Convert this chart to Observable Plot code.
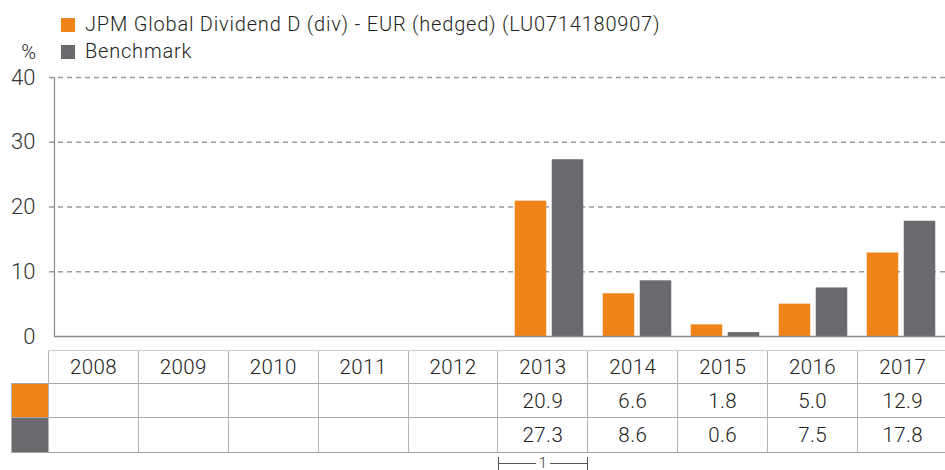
<!DOCTYPE html>
<html>
<head>
<meta charset="utf-8">
<script src="https://cdn.jsdelivr.net/npm/d3@7"></script>
<script src="https://cdn.jsdelivr.net/npm/@observablehq/plot@0.6"></script>
<style>
  html, body { margin: 0; padding: 0; background: #fff; }
  body { width: 945px; height: 470px; position: relative; overflow: hidden;
         font-family: Roboto, "Liberation Sans", Arial, sans-serif; font-weight: 300; color: #231f20; }
  #legend { position: absolute; left: 61px; top: 11px; font-size: 20px; line-height: 27px; letter-spacing: 0.8px; }
  .item { display: flex; align-items: center; white-space: nowrap; }
  .sw { width: 14px; height: 14px; margin-right: 10px; flex: none; }
  #unit { position: absolute; left: 0; width: 36px; text-align: right; top: 39px; font-size: 20px; line-height: 27px; }
  #chart { position: absolute; left: 0; top: 62px; }
  #tbl { position: absolute; left: 11px; top: 350px; border-collapse: collapse; table-layout: fixed; width: 936px;
         font-size: 20.5px; letter-spacing: 0.4px; color: #222; }
  #tbl td { padding: 0; text-align: center; vertical-align: middle; }
  #tbl tr.head td { height: 32px; border-top: 1.5px solid #cfcfcf; border-left: 1px solid #b5b5b5; }
  #tbl tr.head td.swc { border-top: none; border-left: none; }
  #tbl tr.val td { border-top: 1.5px solid #a8a8a8; border-left: 1px solid #b5b5b5; }
  #tbl tr.val.last td { border-bottom: 1.5px solid #a0a0a0; }
  #tbl tr.foot td { border: none; height: 17px; vertical-align: top; }
  .bracket { margin-top: 4px; height: 13px; border-left: 1px solid #555; border-right: 1px solid #555;
             display: flex; align-items: center; font-size: 14px; line-height: 13px; color: #333; letter-spacing: 0; }
  .bracket .ln { flex: 1; height: 0; border-top: 1px solid #555; }
  .bracket .lb { padding: 0 3px; }
</style>
</head>
<body>
<div id="legend"></div>
<div id="unit">%</div>
<div id="chart"></div>
<table id="tbl"></table>
<script>
// ---- data ----
const years = ["2008", "2009", "2010", "2011", "2012", "2013", "2014", "2015", "2016", "2017"];
const fundValues = [null, null, null, null, null, 20.9, 6.6, 1.8, 5.0, 12.9];
const benchmarkValues = [null, null, null, null, null, 27.3, 8.6, 0.6, 7.5, 17.8];
const seriesNames = ["JPM Global Dividend D (div) - EUR (hedged) (LU0714180907)", "Benchmark"];
const seriesColors = ["#f18419", "#6a696e"];
const yTicks = [0, 10, 20, 30, 40];
const unitLabel = "%";
const footnotes = [{ year: "2013", label: "1" }];

// ---- legend ----
const legend = d3.select("#legend");
seriesNames.forEach((name, i) => {
  const it = legend.append("div").attr("class", "item");
  it.append("div").attr("class", "sw").style("background", seriesColors[i]);
  it.append("span").text(name);
});
d3.select("#unit").text(unitLabel);

// ---- chart ----
const fundData = years.map((year, i) => ({ year, value: fundValues[i] })).filter(d => d.value != null);
const benchData = years.map((year, i) => ({ year, value: benchmarkValues[i] })).filter(d => d.value != null);

const chart = Plot.plot({
  width: 945,
  height: 283,
  marginLeft: 54,
  marginRight: 0,
  marginTop: 15,
  marginBottom: 9,
  style: { fontFamily: "Roboto, 'Liberation Sans', Arial, sans-serif", fontWeight: 300, color: "#333", background: "transparent", overflow: "visible" },
  x: { domain: years, range: [62.75, 947.75], padding: 0, axis: null },
  y: { domain: [0, 40], ticks: yTicks },
  marks: [
    Plot.ruleY(yTicks.filter(d => d > 0), { stroke: "#9c9c9c", strokeWidth: 1.3, strokeDasharray: "5,4", insetLeft: -5 }),
    Plot.barY(fundData, { x: "year", y: "value", fill: seriesColors[0], insetLeft: 9.75, insetRight: 46.75 }),
    Plot.barY(benchData, { x: "year", y: "value", fill: seriesColors[1], insetLeft: 46.75, insetRight: 9.75 }),
    Plot.ruleY([0], { stroke: "#8a8a8a", strokeWidth: 1.5 }),
    Plot.frame({ anchor: "left", stroke: "#8a8a8a", strokeWidth: 1.2 }),
    Plot.axisY(yTicks, { tickSize: 0, tickPadding: 19, fontSize: 22, label: null, fill: "#333" })
  ]
});
document.getElementById("chart").appendChild(chart);

// ---- table ----
const tbl = d3.select("#tbl");
const cg = tbl.append("colgroup");
cg.append("col").style("width", "37px");
years.forEach(() => cg.append("col").style("width", "89.9px"));

const head = tbl.append("tr").attr("class", "head");
head.append("td").attr("class", "swc");
years.forEach(y => head.append("td").text(y));

[fundValues, benchmarkValues].forEach((vals, si) => {
  const tr = tbl.append("tr").attr("class", "val" + (si === 1 ? " last" : ""));
  tr.append("td").attr("class", "swc").style("background", seriesColors[si]).style("height", si === 0 ? "33px" : "34px");
  vals.forEach(v => tr.append("td").text(v == null ? "" : d3.format(".1f")(v)));
});

const foot = tbl.append("tr").attr("class", "foot");
foot.append("td");
years.forEach(y => {
  const td = foot.append("td");
  const fn = footnotes.find(f => f.year === y);
  if (fn) {
    const b = td.append("div").attr("class", "bracket");
    b.append("div").attr("class", "ln");
    b.append("span").attr("class", "lb").text(fn.label);
    b.append("div").attr("class", "ln");
  }
});
</script>
</body>
</html>
